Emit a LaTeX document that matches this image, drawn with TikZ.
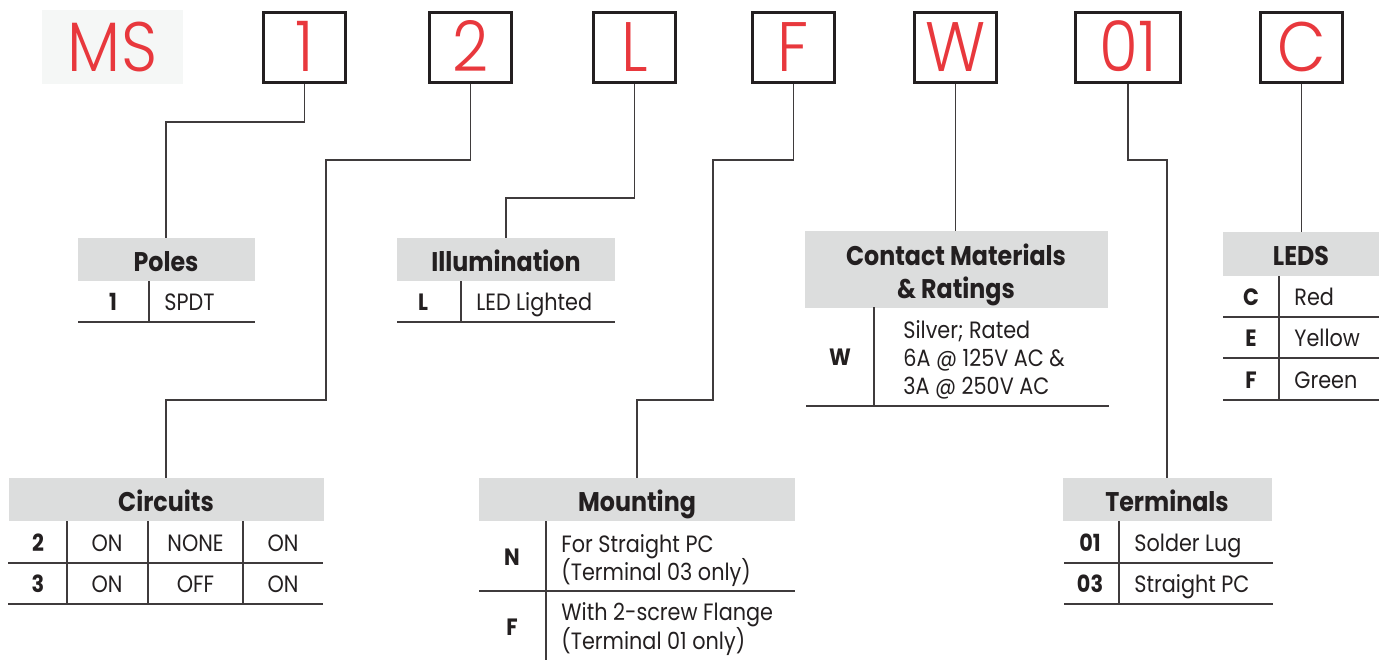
\documentclass[tikz,border=0pt]{standalone}
\usepackage{fontspec}
\setmainfont[FakeStretch=0.88]{Poppins}
\newfontfamily\bigfont[FakeStretch=0.9]{Poppins Light}
\definecolor{redc}{HTML}{E8383D}
\definecolor{boxc}{HTML}{231F20}
\definecolor{txt}{HTML}{231F20}
\definecolor{hdrgray}{HTML}{DCDDDD}
\definecolor{msbg}{HTML}{F5F7F6}
\definecolor{linec}{HTML}{3F3B3C}
\begin{document}
\begin{tikzpicture}[x=0.5pt,y=-0.5pt,
  codebox/.style={draw=boxc, line width=1.5pt, minimum width=41pt, minimum height=35pt, inner sep=0pt,
    font=\bigfont\fontsize{35}{35}\selectfont, text=redc, text height=24.5pt, text depth=0pt},
  hdr/.style={fill=hdrgray, inner sep=0pt, font=\bfseries\fontsize{13.5}{16.5}\selectfont, text=txt,
    text height=11.9pt, text depth=0pt},
  key/.style={font=\bfseries\fontsize{11.8}{14}\selectfont, text=txt, inner sep=0pt, text height=8.2pt, text depth=0pt},
  val/.style={font=\fontsize{11.8}{14}\selectfont, text=txt, inner sep=0pt, anchor=west, text height=8.2pt, text depth=0pt},
  cval/.style={font=\fontsize{11.8}{14}\selectfont, text=txt, inner sep=0pt, text height=8.2pt, text depth=0pt},
  rule/.style={draw=linec, line width=0.75pt},
  wire/.style={draw=linec, line width=0.6pt}]
\useasboundingbox (0,0) rectangle (1386,660);

% code boxes
\node[fill=msbg, minimum width=70.5pt, minimum height=37pt, inner sep=0pt, font=\bigfont\fontsize{35}{35}\selectfont, text=redc, text height=24.5pt, text depth=0pt] (ms) at (112.5,47) {MS};
\node[codebox] (b1) at (304.5,47) {1};
\node[codebox] (b2) at (470.5,47) {2};
\node[codebox] (bL) at (634.5,47) {L};
\node[codebox] (bF) at (793.5,47) {F};
\node[codebox] (bW) at (955.5,47) {W};
\node[codebox, minimum width=52.5pt] (b01) at (1128,47) {01};
\node[codebox] (bC) at (1301.5,47) {C};

% headers
\node[hdr, minimum width=88.5pt, minimum height=21.5pt] (poles) at (166,259.5) {Poles};
\node[hdr, minimum width=109pt, minimum height=21.5pt] (illum) at (506,259.5) {Illumination};
\node[hdr, minimum width=157.5pt, minimum height=21.5pt] (circ) at (166,499.5) {Circuits};
\node[hdr, minimum width=158pt, minimum height=21.5pt] (mount) at (637,499.5) {Mounting};
\node[hdr, minimum width=151.5pt, minimum height=37.5pt, text height=, text depth=] (cont) at (956,269.5)
  {\begin{tabular}{@{}c@{}}\rule{0pt}{17pt}Contact Materials\\\& Ratings\end{tabular}};
\node[hdr, minimum width=104.5pt, minimum height=21.5pt] (term) at (1167,499.5) {Terminals};
\node[hdr, minimum width=78pt, minimum height=22pt] (leds) at (1301,254) {LEDS};

% connectors
\coordinate (j1) at (166,122);
\coordinate (j2a) at (326,160);
\coordinate (j2b) at (166,400);
\coordinate (jL) at (506,198);
\coordinate (jF1) at (713,160);
\coordinate (jF2) at (637,400);
\coordinate (jT) at (1167,160);
\draw[wire] (b1.south) |- (j1) -- (poles.north);
\draw[wire] (b2.south) |- (j2a) |- (j2b) -- (circ.north);
\draw[wire] (bL.south) |- (jL) -- (illum.north);
\draw[wire] (bF.south) |- (jF1) |- (jF2) -- (mount.north);
\draw[wire] (bW.south) -- (bW.south |- cont.north);
\draw[wire] (b01.south) |- (jT) -- (term.north);
\draw[wire] (bC.south) -- (bC.south |- leds.north);

% Poles table
\node[key] (p1k) at (113,302) {1};
\node[val] (p1v) at (164,302) {SPDT};
\draw[rule] (78,322) -- (255,322);
\draw[rule] (149,281) -- (149,322);

% Illumination table
\node[key] (iLk) at (423,302) {L};
\node[val] (iLv) at (476,302) {LED Lighted};
\draw[rule] (397,322) -- (615,322);
\draw[rule] (461,281) -- (461,322);

% Circuits table
\node[key] (c2k) at (38,543) {2};
\node[cval] (c2a) at (107,543) {ON};
\node[cval] (c2b) at (195.5,543) {NONE};
\node[cval] (c2c) at (283,543) {ON};
\node[key] (c3k) at (38,584) {3};
\node[cval] (c3a) at (107,584) {ON};
\node[cval] (c3b) at (195.5,584) {OFF};
\node[cval] (c3c) at (283,584) {ON};
\draw[rule] (8,563) -- (323,563);
\draw[rule] (8,604) -- (323,604);
\draw[rule] (67,521) -- (67,604);
\draw[rule] (148,521) -- (148,604);
\draw[rule] (243,521) -- (243,604);

% Mounting table
\node[key] (mNk) at (512,557) {N};
\node[val] (mN1) at (561,544) {For Straight PC};
\node[val] (mN2) at (561,572) {(Terminal 03 only)};
\node[key] (mFk) at (512,627) {F};
\node[val] (mF1) at (561,612) {With 2-screw Flange};
\node[val] (mF2) at (561,641) {(Terminal 01 only)};
\draw[rule] (479,591) -- (795,591);
\draw[rule] (546,521) -- (546,660);

% Contact table
\node[key] (cWk) at (840,357) {W};
\node[val] (cW1) at (903,330) {Silver; Rated};
\node[val] (cW2) at (903,358) {6A @ 125V AC \&};
\node[val] (cW3) at (903,386) {3A @ 250V AC};
\draw[rule] (806,406) -- (1109,406);
\draw[rule] (874,307) -- (874,406);

% Terminals table
\node[key] (t1k) at (1090,543) {01};
\node[val] (t1v) at (1134,543) {Solder Lug};
\node[key] (t3k) at (1090,584) {03};
\node[val] (t3v) at (1134,584) {Straight PC};
\draw[rule] (1064,563) -- (1273,563);
\draw[rule] (1064,604) -- (1273,604);
\draw[rule] (1119,521) -- (1119,604);

% LEDS table
\node[key] (lCk) at (1251,297) {C};
\node[val] (lCv) at (1294,297) {Red};
\node[key] (lEk) at (1251,338) {E};
\node[val] (lEv) at (1294,338) {Yellow};
\node[key] (lFk) at (1251,380) {F};
\node[val] (lFv) at (1294,380) {Green};
\draw[rule] (1223,317) -- (1379,317);
\draw[rule] (1223,358) -- (1379,358);
\draw[rule] (1223,400) -- (1379,400);
\draw[rule] (1279,276) -- (1279,400);
\end{tikzpicture}
\end{document}
